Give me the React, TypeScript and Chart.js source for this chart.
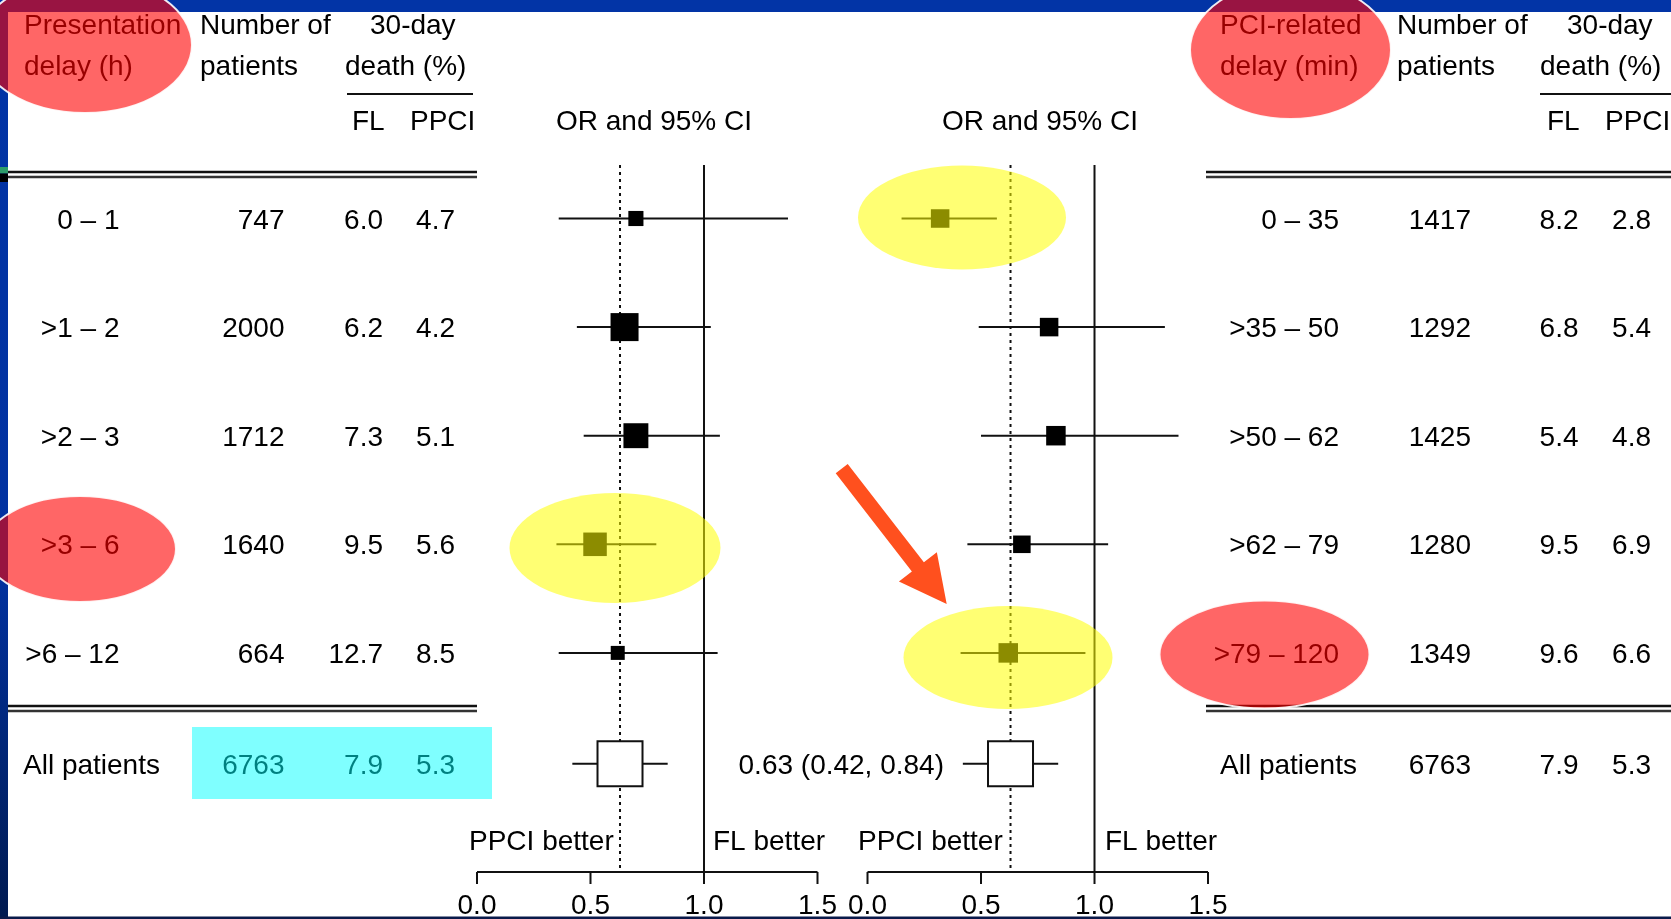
import React, { useEffect, useRef } from "react";
import { Chart, registerables } from "chart.js";

Chart.register(...registerables);

// ---- Presentation delay (h) subgroups ----
const presentationDelay = ["0 – 1", ">1 – 2", ">2 – 3", ">3 – 6", ">6 – 12"];
const presentationN = [747, 2000, 1712, 1640, 664];
const presentationFL = [6.0, 6.2, 7.3, 9.5, 12.7];
const presentationPPCI = [4.7, 4.2, 5.1, 5.6, 8.5];
const presentationOR = [0.7, 0.65, 0.7, 0.52, 0.62];
const presentationLo = [0.36, 0.44, 0.47, 0.35, 0.36];
const presentationHi = [1.37, 1.03, 1.07, 0.79, 1.06];
const presentationWeight = [0.54, 1.0, 0.89, 0.84, 0.5];

// ---- PCI-related delay (min) subgroups ----
const pciDelay = ["0 – 35", ">35 – 50", ">50 – 62", ">62 – 79", ">79 – 120"];
const pciN = [1417, 1292, 1425, 1280, 1349];
const pciFL = [8.2, 6.8, 5.4, 9.5, 9.6];
const pciPPCI = [2.8, 5.4, 4.8, 6.9, 6.6];
const pciOR = [0.32, 0.8, 0.83, 0.68, 0.62];
const pciLo = [0.15, 0.49, 0.5, 0.44, 0.41];
const pciHi = [0.57, 1.31, 1.37, 1.06, 0.96];
const pciWeight = [0.95, 0.95, 1.0, 0.9, 1.0];

// ---- All patients ----
const overallLabel = "All patients";
const overallN = 6763;
const overallFL = 7.9;
const overallPPCI = 5.3;
const overallOR = 0.63;
const overallLo = 0.42;
const overallHi = 0.84;

// ---- OR axis ----
const axisTicks = [0, 0.5, 1.0, 1.5];
const axisTickLabels = ["0.0", "0.5", "1.0", "1.5"];
const refOR = 1.0;

const rowPositions = [1, 2, 3, 4, 5];

// ---- layout ----
const W = 1671;
const H = 919;
const FONT = '28px "Liberation Sans", Arial, Helvetica, sans-serif';
const LAYOUT = {
  xMin: -2.1013,
  xMax: 5.2599,
  yMin: -1.012,
  yMax: 7.4503,
  rightOffset: 1.7203,
  overallRow: 6.02,
  refTop: 165,
  axisY: 872,
  tickLen: 12,
  tickBaseline: 914,
  leftSquareMax: 28,
  rightSquareMax: 19.5,
  summarySide: 45,
  headerCenters: [654, 1040],
};

const leftCols = { label: 119.5, n: 284.5, fl: 383, ppci: 455, all: 23 };
const rightCols = { label: 1339, n: 1471, fl: 1578.5, ppci: 1651, all: 1220 };

function buildDatasets() {
  const panels = [
    { or: presentationOR, lo: presentationLo, hi: presentationHi, w: presentationWeight, off: 0, max: LAYOUT.leftSquareMax },
    { or: pciOR, lo: pciLo, hi: pciHi, w: pciWeight, off: LAYOUT.rightOffset, max: LAYOUT.rightSquareMax },
  ];
  const ds: any[] = [];
  panels.forEach((p) => {
    rowPositions.forEach((r, i) => {
      ds.push({
        type: "line",
        data: [
          { x: p.lo[i] + p.off, y: r },
          { x: p.hi[i] + p.off, y: r },
        ],
        borderColor: "#111",
        borderWidth: 2,
        pointRadius: 0,
        order: 3,
      });
    });
    ds.push({
      type: "line",
      data: [
        { x: overallLo + p.off, y: LAYOUT.overallRow },
        { x: overallHi + p.off, y: LAYOUT.overallRow },
      ],
      borderColor: "#111",
      borderWidth: 2,
      pointRadius: 0,
      order: 3,
    });
    ds.push({
      type: "scatter",
      data: p.or.map((v, i) => ({ x: v + p.off, y: rowPositions[i] })),
      pointStyle: "rect",
      pointRadius: p.w.map((w) => (w * p.max) / Math.SQRT2),
      backgroundColor: "#000",
      borderWidth: 0,
      order: 2,
    });
    ds.push({
      type: "scatter",
      data: [{ x: overallOR + p.off, y: LAYOUT.overallRow }],
      pointStyle: "rect",
      pointRadius: LAYOUT.summarySide / Math.SQRT2,
      backgroundColor: "#fff",
      borderColor: "#111",
      borderWidth: 2,
      order: 1,
    });
  });
  return ds;
}

function text(ctx: CanvasRenderingContext2D, s: string, x: number, y: number, align: CanvasTextAlign = "left") {
  ctx.textAlign = align;
  ctx.fillText(s, x, y);
}

function hLine(ctx: CanvasRenderingContext2D, x1: number, x2: number, y: number, w = 2, color = "#111") {
  ctx.save();
  ctx.strokeStyle = color;
  ctx.lineWidth = w;
  ctx.beginPath();
  ctx.moveTo(x1, y);
  ctx.lineTo(x2, y);
  ctx.stroke();
  ctx.restore();
}

// page frame, table and axes drawn underneath the forest marks
const tablePlugin = {
  id: "forestTable",
  beforeDatasetsDraw(chart: any) {
    const ctx: CanvasRenderingContext2D = chart.ctx;
    const xs = chart.scales.x;
    const ys = chart.scales.y;
    const px = (v: number) => xs.getPixelForValue(v);
    const py = (v: number) => ys.getPixelForValue(v);

    ctx.save();
    ctx.fillStyle = "#fff";
    ctx.fillRect(0, 0, W, H);

    // frame
    ctx.fillStyle = "#0234a6";
    ctx.fillRect(0, 0, W, 12);
    const g = ctx.createLinearGradient(0, 0, 0, H);
    g.addColorStop(0, "#0234a6");
    g.addColorStop(0.62, "#0232a0");
    g.addColorStop(1, "#001a50");
    ctx.fillStyle = g;
    ctx.fillRect(0, 0, 8, H);
    ctx.fillStyle = "#2e9c6a";
    ctx.fillRect(0, 167, 8, 6.5);
    ctx.fillStyle = "#000";
    ctx.fillRect(0, 173.5, 8, 8.5);

    ctx.fillStyle = "#000";
    ctx.font = FONT;
    ctx.textBaseline = "alphabetic";

    // headers
    text(ctx, "Presentation", 24, 33.5);
    text(ctx, "delay (h)", 24, 74.5);
    text(ctx, "Number of", 200, 33.5);
    text(ctx, "patients", 200, 74.5);
    text(ctx, "30-day", 370, 33.5);
    text(ctx, "death (%)", 345, 74.5);
    hLine(ctx, 347, 473, 94);
    text(ctx, "FL", 352, 129.5);
    text(ctx, "PPCI", 410, 129.5);

    text(ctx, "PCI-related", 1220, 33.5);
    text(ctx, "delay (min)", 1220, 74.5);
    text(ctx, "Number of", 1397, 33.5);
    text(ctx, "patients", 1397, 74.5);
    text(ctx, "30-day", 1567, 33.5);
    text(ctx, "death (%)", 1540, 74.5);
    hLine(ctx, 1540, W, 94);
    text(ctx, "FL", 1547, 129.5);
    text(ctx, "PPCI", 1605, 129.5);

    text(ctx, "OR and 95% CI", LAYOUT.headerCenters[0], 129.5, "center");
    text(ctx, "OR and 95% CI", LAYOUT.headerCenters[1], 129.5, "center");

    // double rules
    hLine(ctx, 8, 477, 172, 2.5);
    hLine(ctx, 8, 477, 177, 2.5, "#333");
    hLine(ctx, 1206, W, 172, 2.5);
    hLine(ctx, 1206, W, 177, 2.5, "#333");
    hLine(ctx, 8, 477, 706, 2.5);
    hLine(ctx, 8, 477, 711, 2.5, "#333");
    hLine(ctx, 1206, W, 706, 2.5);
    hLine(ctx, 1206, W, 711, 2.5, "#333");

    // subgroup rows
    rowPositions.forEach((r, i) => {
      const y = py(r) + 10;
      text(ctx, presentationDelay[i], leftCols.label, y, "right");
      text(ctx, String(presentationN[i]), leftCols.n, y, "right");
      text(ctx, presentationFL[i].toFixed(1), leftCols.fl, y, "right");
      text(ctx, presentationPPCI[i].toFixed(1), leftCols.ppci, y, "right");

      text(ctx, pciDelay[i], rightCols.label, y, "right");
      text(ctx, String(pciN[i]), rightCols.n, y, "right");
      text(ctx, pciFL[i].toFixed(1), rightCols.fl, y, "right");
      text(ctx, pciPPCI[i].toFixed(1), rightCols.ppci, y, "right");
    });

    const yAll = py(LAYOUT.overallRow) + 10;
    text(ctx, overallLabel, leftCols.all, yAll);
    text(ctx, String(overallN), leftCols.n, yAll, "right");
    text(ctx, overallFL.toFixed(1), leftCols.fl, yAll, "right");
    text(ctx, overallPPCI.toFixed(1), leftCols.ppci, yAll, "right");
    text(ctx, overallLabel, rightCols.all, yAll);
    text(ctx, String(overallN), rightCols.n, yAll, "right");
    text(ctx, overallFL.toFixed(1), rightCols.fl, yAll, "right");
    text(ctx, overallPPCI.toFixed(1), rightCols.ppci, yAll, "right");

    text(
      ctx,
      `${overallOR.toFixed(2)} (${overallLo.toFixed(2)}, ${overallHi.toFixed(2)})`,
      944,
      yAll,
      "right"
    );

    // reference lines and OR axes for both panels
    [0, LAYOUT.rightOffset].forEach((off, k) => {
      const x1 = px(refOR + off);
      ctx.strokeStyle = "#111";
      ctx.lineWidth = 2;
      ctx.setLineDash([]);
      ctx.beginPath();
      ctx.moveTo(x1, LAYOUT.refTop);
      ctx.lineTo(x1, LAYOUT.axisY);
      ctx.stroke();

      const xo = px(overallOR + off);
      ctx.setLineDash([3, 4]);
      ctx.beginPath();
      ctx.moveTo(xo, LAYOUT.refTop);
      ctx.lineTo(xo, LAYOUT.axisY);
      ctx.stroke();
      ctx.setLineDash([]);

      const a0 = px(axisTicks[0] + off);
      const a1 = px(axisTicks[axisTicks.length - 1] + off);
      ctx.beginPath();
      ctx.moveTo(a0, LAYOUT.axisY);
      ctx.lineTo(a1, LAYOUT.axisY);
      axisTicks.forEach((t) => {
        const tx = px(t + off);
        ctx.moveTo(tx, LAYOUT.axisY);
        ctx.lineTo(tx, LAYOUT.axisY + LAYOUT.tickLen);
      });
      ctx.stroke();
      axisTicks.forEach((t, i) => {
        text(ctx, axisTickLabels[i], px(t + off), LAYOUT.tickBaseline, "center");
      });

      text(ctx, "PPCI better", k === 0 ? 469 : 858, 850);
      text(ctx, "FL better", k === 0 ? 713 : 1105, 850);
    });

    ctx.restore();
  },

  // highlight overlays drawn on top of the figure
  afterDatasetsDraw(chart: any) {
    const ctx: CanvasRenderingContext2D = chart.ctx;
    ctx.save();

    const ellipse = (cx: number, cy: number, rx: number, ry: number, fill: string, stroke?: string) => {
      ctx.beginPath();
      ctx.ellipse(cx, cy, rx, ry, 0, 0, Math.PI * 2);
      ctx.fillStyle = fill;
      ctx.fill();
      if (stroke) {
        ctx.strokeStyle = stroke;
        ctx.lineWidth = 2;
        ctx.stroke();
      }
    };

    const yellow = "rgba(255,255,0,0.55)";
    ellipse(615, 548, 105.5, 55, yellow);
    ellipse(962, 217.5, 104, 52, yellow);
    ellipse(1008, 657.5, 104.5, 51.5, yellow);

    const red = "rgba(255,0,0,0.6)";
    ellipse(85, 45, 107, 68, red, "rgba(255,255,255,0.9)");
    ellipse(1290.5, 50, 100.5, 69, red, "rgba(255,255,255,0.9)");
    ellipse(80, 549, 96, 53, red, "rgba(255,255,255,0.9)");
    ellipse(1264.5, 654.5, 105, 54, red, "rgba(255,255,255,0.9)");

    ctx.fillStyle = "rgba(0,255,255,0.5)";
    ctx.fillRect(192, 727, 300, 72);

    // arrow
    const tail = { x: 841.7, y: 468.7 };
    const tip = { x: 946.7, y: 604 };
    const dx = tip.x - tail.x;
    const dy = tip.y - tail.y;
    const len = Math.hypot(dx, dy);
    const ux = dx / len;
    const uy = dy / len;
    const nx = -uy;
    const ny = ux;
    const shaft = 7.6;
    const headLen = 47;
    const headHalf = 24;
    const bx = tip.x - ux * headLen;
    const by = tip.y - uy * headLen;
    ctx.fillStyle = "#ff501e";
    ctx.beginPath();
    ctx.moveTo(tail.x + nx * shaft, tail.y + ny * shaft);
    ctx.lineTo(bx + nx * shaft, by + ny * shaft);
    ctx.lineTo(bx + nx * headHalf, by + ny * headHalf);
    ctx.lineTo(tip.x, tip.y);
    ctx.lineTo(bx - nx * headHalf, by - ny * headHalf);
    ctx.lineTo(bx - nx * shaft, by - ny * shaft);
    ctx.lineTo(tail.x - nx * shaft, tail.y - ny * shaft);
    ctx.closePath();
    ctx.fill();

    // bottom frame line
    ctx.fillStyle = "#0a1a4a";
    ctx.fillRect(0, 916.5, W, 2.5);
    ctx.restore();
  },
};

export default function App() {
  const canvasRef = useRef<HTMLCanvasElement | null>(null);

  useEffect(() => {
    const canvas = canvasRef.current;
    if (!canvas) return;
    const chart = new Chart(canvas, {
      type: "scatter",
      data: { datasets: buildDatasets() },
      options: {
        responsive: false,
        animation: false,
        events: [],
        devicePixelRatio: 1,
        layout: { padding: 0, autoPadding: false },
        plugins: { legend: { display: false }, tooltip: { enabled: false } },
        scales: {
          x: { type: "linear", min: LAYOUT.xMin, max: LAYOUT.xMax, display: false },
          y: { type: "linear", min: LAYOUT.yMin, max: LAYOUT.yMax, reverse: true, display: false },
        },
      },
      plugins: [tablePlugin],
    } as any);
    return () => chart.destroy();
  }, []);

  return (
    <div style={{ position: "fixed", left: 0, top: 0, width: W, height: H, background: "#fff" }}>
      <canvas ref={canvasRef} width={W} height={H} style={{ display: "block", width: W, height: H }} />
    </div>
  );
}
